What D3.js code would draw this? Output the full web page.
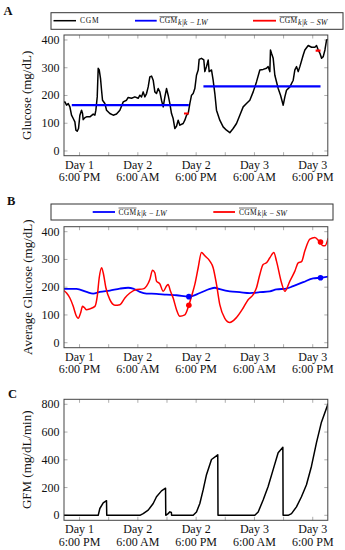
<!DOCTYPE html>
<html><head><meta charset="utf-8">
<script src="https://cdn.jsdelivr.net/npm/d3@7"></script>
<style>body{margin:0;background:#fff}svg{display:block}</style>
</head><body>
<svg id="c" width="345" height="550"></svg>
<script>
// ---- data (hours since Day 1 00:00) ----
const cgmHours = [14.78,14.98,15.33,15.67,16.01,16.35,16.70,17.04,17.25,17.52,17.79,18.07,18.41,18.62,18.75,19.10,19.44,20.13,20.81,21.16,21.36,21.64,21.84,22.05,22.32,22.53,22.73,23.21,23.56,24.24,24.93,25.61,26.30,26.99,27.67,28.01,28.70,29.39,30.07,30.42,30.76,31.10,31.44,31.79,32.13,32.47,32.82,33.16,33.50,33.84,34.19,34.53,34.87,35.22,35.56,35.90,36.24,36.59,36.93,37.27,37.62,37.96,38.30,38.65,39.33,39.67,40.02,40.36,40.70,41.05,41.39,41.73,42.07,42.42,42.62,43.10,43.58,43.79,44.13,44.48,44.68,45.16,45.50,45.85,46.19,46.87,47.56,48.25,48.93,49.62,50.31,50.99,51.68,52.36,53.05,53.74,54.42,55.11,55.79,56.48,56.82,57.17,57.30,57.51,57.86,58.20,58.89,59.37,59.92,60.26,60.60,61.29,61.98,62.32,62.67,63.01,63.35,64.04,64.38,65.07,65.76,66.44,66.78,67.13,67.48,67.82,68.16,68.51,68.85,69.17];
const cgmValues = [175,177,165,171,159,129,117,105,75,71,81,129,147,135,113,120,123,123,133,129,147,195,298,292,261,219,183,171,147,135,129,133,147,177,183,193,190,195,190,201,195,213,195,207,231,267,270,255,213,207,225,213,183,159,195,225,201,171,135,117,81,89,111,93,99,111,129,135,171,201,207,225,273,292,330,334,328,286,304,328,286,292,255,207,147,111,87,75,66,81,99,129,159,171,183,213,249,292,294,298,304,286,364,352,334,273,225,201,165,195,219,231,255,292,304,286,304,346,364,380,374,374,380,364,352,334,340,364,400,402];

// long-window means shown in A (start hour, end hour, value)
const lwStart = [16.4, 43.5];
const lwEnd   = [40.5, 67.6];
const lwValue = [165, 233];
// short-window means shown in A
const swStart = [39.5, 66.6];
const swEnd   = [40.5, 67.6];
const swValue = [135, 362];

// B: moving averages
const lwHours = [14.78,17.38,19.44,20.81,22.18,24.24,26.30,28.01,29.04,30.42,31.79,33.84,35.90,37.96,40.50,42.76,44.82,45.85,46.87,48.93,50.99,53.05,55.11,57.17,58.54,60.60,61.98,64.04,66.08,67.59,69.17];
const lwAvg   = [194,194,183,177,183,188,195,198,195,183,177,176,173,171,166,179,194,198,193,185,182,179,182,185,192,195,204,218,232,234,238];
const swHours = [14.78,15.33,16.01,16.70,17.25,17.73,18.21,18.62,18.96,19.44,20.13,21.16,21.64,22.05,22.53,22.87,23.42,24.24,25.27,26.30,27.33,28.36,29.73,31.10,31.79,32.47,33.02,33.50,33.84,34.53,35.22,35.90,36.24,36.72,37.27,37.96,38.65,39.67,40.50,41.05,41.73,42.42,43.10,43.79,44.82,45.50,46.19,46.87,47.90,48.93,50.31,51.68,52.70,53.74,54.42,55.11,55.79,56.48,57.17,57.99,58.54,59.57,60.26,61.29,62.32,63.01,63.69,64.38,65.41,66.44,67.34,68.16,68.51,69.17];
const swAvg   = [188,179,161,131,100,88,107,131,127,119,122,131,167,234,270,252,198,155,135,137,161,179,192,194,204,228,261,252,222,212,185,204,210,185,161,119,95,100,135,167,210,270,325,313,294,270,210,137,88,73,91,125,155,173,198,246,282,288,306,325,294,216,185,222,258,288,292,331,373,379,365,349,349,377];
const dotHours = [40.5, 67.6];
const dotLW = [166, 234];
const dotSW = [135, 363];

// C: GFM
const gfmHours = [14.78,21.84,22.18,22.87,23.55,23.6,30.42,31.10,32.13,33.16,33.84,34.87,35.7,35.75,36.24,36.59,36.9,36.95,41.39,42.07,42.76,43.44,44.13,45.16,46.45,46.5,54.08,54.77,55.79,56.82,57.85,58.88,59.85,59.9,60.94,61.63,62.65,63.68,64.71,65.74,66.77,67.79,69.17];
const gfmValues = [0,0,49,90,105,0,0,12,37,85,134,176,195,0,12,25,20,0,0,24,85,183,293,402,436,0,0,24,110,207,329,451,490,0,0,12,61,134,220,354,524,671,805];

// axis ticks
const xTicks = [18,24,30,36,42,48,54,60,66];
const xLabelTicks = [18,30,42,54,66];
const xLabelLine1 = ["Day 1","Day 2","Day 2","Day 3","Day 3"];
const xLabelLine2 = ["6:00 PM","6:00 AM","6:00 PM","6:00 AM","6:00 PM"];
const yTicksAB = [0,100,200,300,400];
const yTicksC = [0,200,400,600,800];

// ---- drawing ----
const svg = d3.select("#c");
const SERIF = "'Liberation Serif','DejaVu Serif',serif";
const x = d3.scaleLinear().domain([14.8, 69.1]).range([64, 327.8]);

function panel(top, bottom, ydom, yticks, ylabel, labelX) {
  const y = d3.scaleLinear().domain(ydom).range([bottom, top]);
  const g = svg.append("g");
  const L = x.range()[0], R = x.range()[1];
  const tl = 3.5;
  xTicks.forEach(t => {
    const xx = x(t);
    g.append("line").attr("x1",xx).attr("x2",xx).attr("y1",bottom).attr("y2",bottom-tl).attr("stroke","#999").attr("stroke-width",0.8);
    g.append("line").attr("x1",xx).attr("x2",xx).attr("y1",top).attr("y2",top+tl).attr("stroke","#999").attr("stroke-width",0.8);
  });
  yticks.forEach(t => {
    const yy = y(t);
    g.append("line").attr("x1",L).attr("x2",L+tl).attr("y1",yy).attr("y2",yy).attr("stroke","#999").attr("stroke-width",0.8);
    g.append("line").attr("x1",R).attr("x2",R-tl).attr("y1",yy).attr("y2",yy).attr("stroke","#999").attr("stroke-width",0.8);
    g.append("text").attr("x",L-4.5).attr("y",yy+4).attr("text-anchor","end")
      .attr("font-family",SERIF).attr("font-size",12).attr("fill","#111").text(t);
  });
  xLabelTicks.forEach((t,i) => {
    g.append("text").attr("x",x(t)).attr("y",bottom+12.8).attr("text-anchor","middle")
      .attr("font-family",SERIF).attr("font-size",12).attr("fill","#111").text(xLabelLine1[i]);
    g.append("text").attr("x",x(t)).attr("y",bottom+25.5).attr("text-anchor","middle")
      .attr("font-family",SERIF).attr("font-size",12).attr("fill","#111").text(xLabelLine2[i]);
  });
  g.append("text").attr("transform",`translate(${labelX},${(top+bottom)/2}) rotate(-90)`)
    .attr("text-anchor","middle").attr("font-family",SERIF).attr("font-size",13).attr("fill","#111").text(ylabel);
  const clip = "clip" + Math.round(top);
  svg.append("clipPath").attr("id",clip).append("rect").attr("x",L).attr("y",top).attr("width",R-L).attr("height",bottom-top);
  const plot = svg.append("g").attr("clip-path",`url(#${clip})`);
  const frame = () => svg.append("rect").attr("x",L).attr("y",top).attr("width",R-L).attr("height",bottom-top)
      .attr("fill","none").attr("stroke","#444").attr("stroke-width",1);
  return {y, plot, frame};
}

function overlineLabel(g, x0, baseline, sub) {
  const t = g.append("text").attr("x",x0).attr("y",baseline).attr("font-family",SERIF).attr("font-size",7.5).attr("letter-spacing",0.3).attr("fill","#111").text("CGM");
  const w = t.node().getComputedTextLength();
  g.append("line").attr("x1",x0).attr("x2",x0+w).attr("y1",baseline-6.6).attr("y2",baseline-6.6).attr("stroke","#111").attr("stroke-width",0.6);
  g.append("text").attr("x",x0+w+0.6).attr("y",baseline+1.8).attr("font-family",SERIF).attr("font-style","italic").attr("font-size",8).attr("fill","#111").text(sub);
}

function panelLabel(txt, xx, yy) {
  svg.append("text").attr("x",xx).attr("y",yy).attr("font-family",SERIF).attr("font-weight","bold").attr("font-size",12.5).attr("fill","#111").text(txt);
}

// ---- Panel A ----
{
  const p = panel(35, 155.7, [-17, 418], yTicksAB, "Glucose (mg/dL)", 31);
  const line = d3.line().x((d,i)=>x(cgmHours[i])).y(d=>p.y(d));
  p.plot.append("path").attr("d", line(cgmValues)).attr("fill","none").attr("stroke","#000").attr("stroke-width",1.5).attr("stroke-linejoin","round");
  lwValue.forEach((v,i)=>{
    p.plot.append("line").attr("x1",x(lwStart[i])).attr("x2",x(lwEnd[i])).attr("y1",p.y(v)).attr("y2",p.y(v)).attr("stroke","#0000ff").attr("stroke-width",2.2);
  });
  swValue.forEach((v,i)=>{
    p.plot.append("line").attr("x1",x(swStart[i])).attr("x2",x(swEnd[i])).attr("y1",p.y(v)).attr("y2",p.y(v)).attr("stroke","#ff0000").attr("stroke-width",2.2);
  });
  p.frame();
  const lg = svg.append("g");
  lg.append("rect").attr("x",51).attr("y",12.7).attr("width",292).attr("height",16.6).attr("fill","#fff").attr("stroke","#333").attr("stroke-width",1);
  lg.append("line").attr("x1",53.5).attr("x2",76).attr("y1",20.7).attr("y2",20.7).attr("stroke","#000").attr("stroke-width",1.5);
  lg.append("text").attr("x",80).attr("y",23.3).attr("font-family",SERIF).attr("font-size",7.5).attr("letter-spacing",0.8).attr("fill","#111").text("CGM");
  lg.append("line").attr("x1",135).attr("x2",156.7).attr("y1",20.7).attr("y2",20.7).attr("stroke","#0000ff").attr("stroke-width",1.8);
  overlineLabel(lg, 159.5, 23.3, "k|k \u2212 LW");
  lg.append("line").attr("x1",253).attr("x2",276).attr("y1",20.7).attr("y2",20.7).attr("stroke","#ff0000").attr("stroke-width",1.8);
  overlineLabel(lg, 279.5, 23.3, "k|k \u2212 SW");
  panelLabel("A", 3.5, 15);
}

// ---- Panel B ----
{
  const p = panel(226.7, 347.7, [-18, 418], yTicksAB, "Average Glucose (mg/dL)", 31.5);
  const lwLine = d3.line().curve(d3.curveMonotoneX).x((d,i)=>x(lwHours[i])).y(d=>p.y(d));
  const swLine = d3.line().curve(d3.curveMonotoneX).x((d,i)=>x(swHours[i])).y(d=>p.y(d));
  p.plot.append("path").attr("d", lwLine(lwAvg)).attr("fill","none").attr("stroke","#0000ff").attr("stroke-width",1.8);
  p.plot.append("path").attr("d", swLine(swAvg)).attr("fill","none").attr("stroke","#ff0000").attr("stroke-width",1.5);
  dotHours.forEach((h,i)=>{
    p.plot.append("circle").attr("cx",x(h)).attr("cy",p.y(dotLW[i])).attr("r",2.8).attr("fill","#0000ff");
    p.plot.append("circle").attr("cx",x(h)).attr("cy",p.y(dotSW[i])).attr("r",2.8).attr("fill","#ff0000");
  });
  p.frame();
  const lg = svg.append("g");
  lg.append("rect").attr("x",51).attr("y",204).attr("width",282).attr("height",16).attr("fill","#fff").attr("stroke","#333").attr("stroke-width",1);
  lg.append("line").attr("x1",92.7).attr("x2",115).attr("y1",212).attr("y2",212).attr("stroke","#0000ff").attr("stroke-width",1.8);
  overlineLabel(lg, 118.5, 214.6, "k|k \u2212 LW");
  lg.append("line").attr("x1",213.3).attr("x2",235).attr("y1",212).attr("y2",212).attr("stroke","#ff0000").attr("stroke-width",1.8);
  overlineLabel(lg, 239, 214.6, "k|k \u2212 SW");
  panelLabel("B", 7, 205);
}

// ---- Panel C ----
{
  const p = panel(399.3, 520.3, [-36, 836], yTicksC, "GFM (mg/dL/min)", 31);
  const line = d3.line().x((d,i)=>x(gfmHours[i])).y(d=>p.y(d));
  p.plot.append("path").attr("d", line(gfmValues)).attr("fill","none").attr("stroke","#000").attr("stroke-width",1.5).attr("stroke-linejoin","round");
  p.frame();
  panelLabel("C", 8, 397.5);
}
</script>
</body></html>
